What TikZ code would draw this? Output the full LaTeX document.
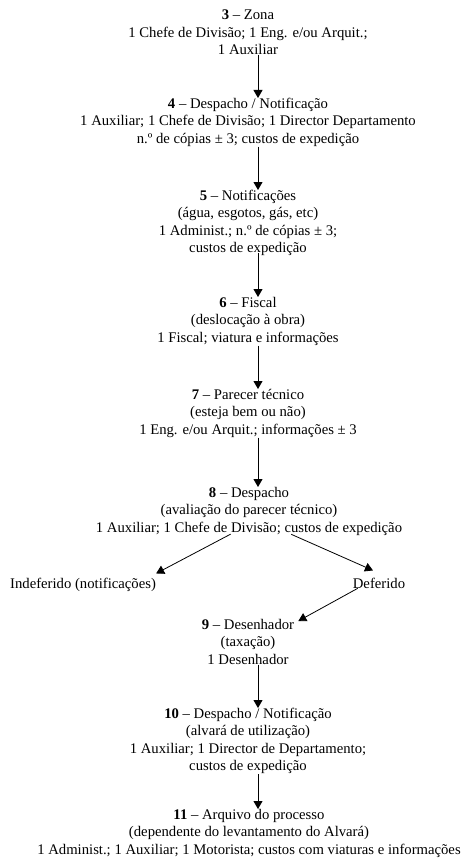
\documentclass[tikz,border=0pt]{standalone}
\usepackage{fontspec}
\setmainfont{Liberation Serif}
\usetikzlibrary{arrows.meta,positioning}
\tikzset{>={Triangle[length=8pt,width=9pt]}, % filled triangular heads
link/.style={->, line width=0.8pt}, % every connector
stage/.style={align=center, inner sep=0pt, font=\fontsize{14.7}{17.4}\selectfont}, % text of every step
}

\begin{document}
\begin{tikzpicture}[x=1pt, y=-1pt]
\useasboundingbox (0,0) rectangle (463,861);
\coordinate (ax) at (258,0); % the vertical arrows run here
\node[stage, anchor=north] (3) at (248,10) {\textbf{3} – Zona\\1 Chefe de Divisão; 1 Eng. e/ou Arquit.;\\1 Auxiliar};
\node[stage, anchor=north] (4) at (248,98) {\textbf{4} – Despacho / Notificação\\1 Auxiliar; 1 Chefe de Divisão; 1 Director Departamento\\n.º de cópias ± 3; custos de expedição};
\node[stage, anchor=north] (5) at (248,190) {\textbf{5} – Notificações\\(água, esgotos, gás, etc)\\1 Administ.; n.º de cópias ± 3;\\custos de expedição};
\node[stage, anchor=north] (6) at (248,297) {\textbf{6} – Fiscal\\(deslocação à obra)\\1 Fiscal; viatura e informações};
\node[stage, anchor=north] (7) at (248,389) {\textbf{7} – Parecer técnico\\(esteja bem ou não)\\1 Eng. e/ou Arquit.; informações ± 3};
\node[stage, anchor=north] (8) at (249,487) {\textbf{8} – Despacho\\(avaliação do parecer técnico)\\1 Auxiliar; 1 Chefe de Divisão; custos de expedição};
\node[stage, anchor=base west] (ind) at (10,588) {Indeferido (notificações)};
\node[stage, anchor=base] (def) at (379,588) {Deferido};
\node[stage, anchor=north] (9) at (248,619) {\textbf{9} – Desenhador\\(taxação)\\1 Desenhador};
\node[stage, anchor=north] (10) at (248,708) {\textbf{10} – Despacho / Notificação\\(alvará de utilização)\\1 Auxiliar; 1 Director de Departamento;\\custos de expedição};
\node[stage, anchor=north] (11) at (249,809) {\textbf{11} – Arquivo do processo\\(dependente do levantamento do Alvará)\\1 Administ.; 1 Auxiliar; 1 Motorista; custos com viaturas e informações};

\draw[link] (3.south -| ax) -- (4.north -| ax);
\draw[link] (4.south -| ax) -- (5.north -| ax);
\draw[link, shorten <=-3pt] (5.south -| ax) -- (6.north -| ax);
\draw[link] (6.south -| ax) -- (7.north -| ax);
\draw[link] (7.south -| ax) -- (8.north -| ax);
\draw[link, shorten <=-3pt] ([xshift=-21pt]8.south) -- ([yshift=4pt]ind.north east);
\draw[link, shorten <=-3pt] ([xshift=45pt]8.south) -- ([xshift=-6pt,yshift=7pt]def.north);
\draw[link] ([xshift=5pt]def.south west) -- ([xshift=4pt,yshift=-2pt]9.north east);
\draw[link] (9.south -| ax) -- (10.north -| ax);
\draw[link] (10.south -| ax) -- (11.north -| ax);
\end{tikzpicture}
\end{document}
